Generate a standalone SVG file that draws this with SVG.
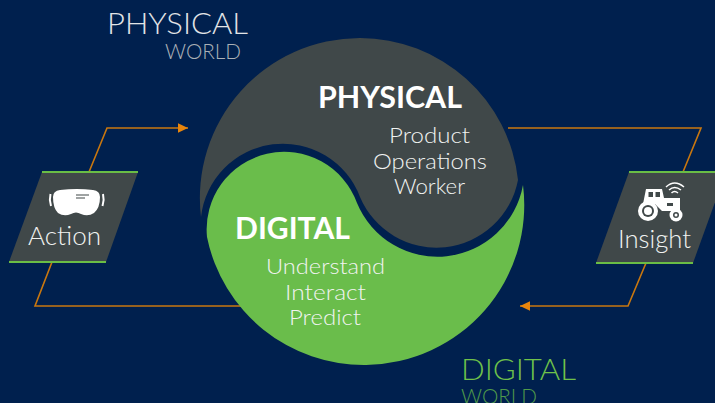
<svg xmlns="http://www.w3.org/2000/svg" width="715" height="403" viewBox="0 0 715 403">
<style>
text{font-family:"Lato","Liberation Sans",sans-serif;text-anchor:start}
.l{font-weight:300;fill:#f1f3f1;font-size:22px}
.b{font-weight:700;fill:#fff;font-size:31px}
.c{fill:none;stroke:#c9770f;stroke-width:1.6}
.g{stroke:#6abd45;stroke-width:2.2}
.t{font-size:30px;font-weight:300}
.w{font-size:21px;font-weight:300}
.d{fill:#404849}
.i{fill:#fff}
</style>
<defs><marker id="a" markerWidth="10" markerHeight="10" refX="10" refY="5" orient="auto" markerUnits="userSpaceOnUse"><path d="M0 .3L10 5 0 9.7z" fill="#e8850c"/></marker></defs>
<rect width="715" height="403" fill="#00204e"/>
<g id="connectors">
<path class="c" d="M89 172L107 128H188" marker-end="url(#a)"/>
<path class="c" d="M52 262L35 306H245"/>
<path class="c" d="M508 128H701L683 172"/>
<path class="c" d="M646 263L628 306H520" marker-end="url(#a)"/>
</g>
<g id="physical-world"><text class="t" x="107" y="34" fill="#e2e4e6" textLength="141" lengthAdjust="spacingAndGlyphs">PHYSICAL</text><text class="w" x="165" y="59" fill="#aab0b6" textLength="76" lengthAdjust="spacingAndGlyphs">WORLD</text></g>
<g id="digital-world"><text class="t" x="461" y="380" fill="#6fc24a" textLength="115" lengthAdjust="spacingAndGlyphs">DIGITAL</text><text class="w" x="461" y="404" fill="#4f9a4a" textLength="76" lengthAdjust="spacingAndGlyphs">WORLD</text></g>
<g id="physical">
<path class="d" d="M201 217A160 160 0 0 1 360 38A159 159 0 0 1 518 180A83 83 0 0 1 360 197A82.4 82.4 0 0 0 201 217Z"/>
<text class="b" x="318" y="108" textLength="144" lengthAdjust="spacingAndGlyphs">PHYSICAL</text>
<text class="l" x="389" y="143" textLength="81" lengthAdjust="spacingAndGlyphs">Product</text><text class="l" x="373" y="169" textLength="114" lengthAdjust="spacingAndGlyphs">Operations</text><text class="l" x="394" y="194" textLength="71" lengthAdjust="spacingAndGlyphs">Worker</text>
</g>
<g id="digital">
<path d="M523 185A160 160 0 0 1 366 365A160 160 0 0 1 207 237A77.5 77.5 0 0 1 357 203A87 87 0 0 0 523 185Z" fill="#6abd4b"/>
<text class="b" x="235" y="239" textLength="115" lengthAdjust="spacingAndGlyphs">DIGITAL</text>
<text class="l" x="266" y="274" textLength="119" lengthAdjust="spacingAndGlyphs">Understand</text><text class="l" x="285" y="300" textLength="81" lengthAdjust="spacingAndGlyphs">Interact</text><text class="l" x="289" y="325" textLength="72" lengthAdjust="spacingAndGlyphs">Predict</text>
</g>
<g id="action">
<path class="d" d="M42 172H138L106 262H9Z"/>
<path class="g" d="M42 172H138M9 262H106"/>
<path class="i" d="M60 190Q77 188 93 190Q100 191 100 197Q100 208 94 213Q88 217 81 214Q76 211 71 214Q64 217 58 213Q53 208 53 197Q53 191 60 190Z"/>
<path d="M50.500 194Q49 200 51 206M103 194Q104.500 200 102.500 206" stroke="#fff" stroke-width="2" fill="none"/>
<path d="M76 195H89M76 198H85" stroke="#404849" stroke-width="1.200" fill="none"/>
<text x="28" y="245" font-size="25" font-weight="300" fill="#f1f3f1" textLength="73" lengthAdjust="spacingAndGlyphs">Action</text>
</g>
<g id="insight">
<path class="d" d="M629 172H726L693 263H596Z"/>
<path class="g" d="M629 172H715M596 263H693"/>
<path class="i" fill-rule="evenodd" d="M646 189H662L664 198H680V211H662L655 204H643ZM648.500 192V197H653V192ZM655.500 192V197H660V192ZM667 203V206H673V203Z"/>
<circle class="i" cx="648" cy="211" r="10"/><circle class="d" cx="648" cy="211" r="6"/><circle class="i" cx="648" cy="211" r="4"/>
<circle class="i" cx="676" cy="215" r="6.500"/><circle class="d" cx="676" cy="215" r="3"/><circle class="i" cx="676" cy="215" r="1.500"/>
<path d="M666 187Q674.500 179 684 187M669 190Q674.500 185 681 190M671.500 193Q674.500 190 678 193" stroke="#fff" stroke-width="1.500" fill="none"/>
<text x="618" y="248" font-size="25" font-weight="300" fill="#f1f3f1" textLength="73" lengthAdjust="spacingAndGlyphs">Insight</text>
</g>
</svg>
